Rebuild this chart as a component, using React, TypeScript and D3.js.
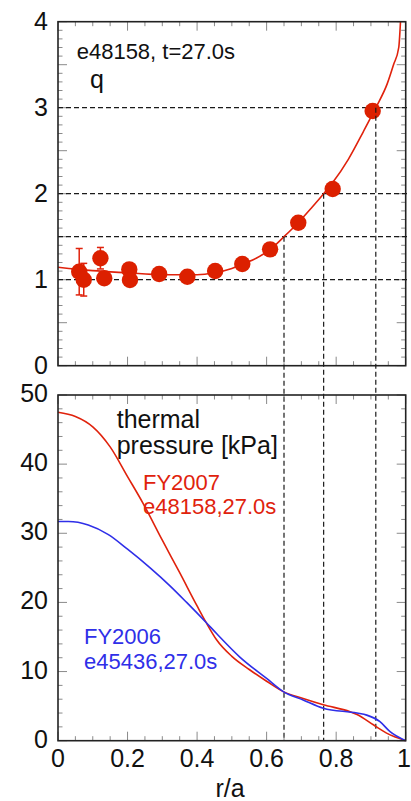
import React from "react";
import * as d3 from "d3";

// Safety-factor measurements (e48158, t = 27.0 s)
const qR = [0.061, 0.074, 0.122, 0.133, 0.205, 0.207, 0.291, 0.372, 0.452, 0.53, 0.61, 0.691, 0.79, 0.905];
const qVal = [1.093, 1.0, 1.25, 1.016, 1.12, 0.997, 1.066, 1.035, 1.101, 1.183, 1.353, 1.663, 2.055, 2.962];
const qErr = [0.27, 0.19, 0.125, 0, 0, 0, 0, 0, 0, 0, 0, 0, 0, 0];

// Fitted q profile
const qFitR = [0, 0.1, 0.2, 0.3, 0.4, 0.45, 0.5, 0.53, 0.57, 0.61, 0.65, 0.69, 0.73, 0.764, 0.79, 0.835, 0.878, 0.914, 0.947, 0.965, 0.98, 0.985];
const qFitV = [1.145, 1.105, 1.08, 1.058, 1.058, 1.08, 1.13, 1.18, 1.25, 1.35, 1.5, 1.66, 1.84, 2.0, 2.13, 2.4, 2.72, 3.0, 3.28, 3.5, 3.7, 4.0];

// Rational surfaces: q value and radius where the fit crosses it
const surfQ = [1.5, 2, 3];
const surfR = [0.65, 0.764, 0.914];
const refQ = [1, 1.5, 2, 3];

// Thermal pressure profiles [kPa]
const p07R = [0, 0.05, 0.1, 0.15, 0.2, 0.245, 0.3, 0.35, 0.4, 0.426, 0.456, 0.5, 0.55, 0.6, 0.648, 0.705, 0.763, 0.84, 0.86, 0.907, 0.945, 1.0];
const p07V = [47.5, 46.9, 45.4, 42.5, 38.2, 34.3, 29.0, 24.3, 19.5, 17.1, 14.6, 12.2, 10.3, 8.6, 7.1, 6.1, 5.2, 4.2, 3.8, 2.3, 1.1, 0];
const p06R = [0, 0.03, 0.087, 0.145, 0.2, 0.265, 0.322, 0.37, 0.426, 0.456, 0.523, 0.6, 0.648, 0.705, 0.763, 0.86, 0.888, 0.926, 0.955, 1.0];
const p06V = [31.7, 31.7, 31.2, 29.8, 27.7, 25.0, 22.4, 20.0, 17.1, 15.5, 12.1, 9.0, 7.1, 5.9, 4.7, 4.0, 3.7, 2.75, 1.3, 0];

const xTickLabels = ["0", "0.2", "0.4", "0.6", "0.8", "1"];
const qTickLabels = ["0", "1", "2", "3", "4"];
const pTickLabels = ["0", "10", "20", "30", "40", "50"];

const W = 411;
const H = 801;
const RED = "#e0220c";
const BLUE = "#2f2fe8";
const FONT = "'Liberation Sans', Arial, Helvetica, sans-serif";

export default function App() {
  const x = d3.scaleLinear().domain([0, 1]).range([58, 405.7]);
  const yq = d3.scaleLinear().domain([0, 4]).range([365.7, 21.7]);
  const yp = d3.scaleLinear().domain([0, 50]).range([740.7, 395]);

  const qLine = d3
    .line<number>()
    .x((_, i) => x(qFitR[i]))
    .y((d) => yq(d))
    .curve(d3.curveMonotoneX);
  const p07Line = d3
    .line<number>()
    .x((_, i) => x(p07R[i]))
    .y((d) => yp(d))
    .curve(d3.curveMonotoneX);
  const p06Line = d3
    .line<number>()
    .x((_, i) => x(p06R[i]))
    .y((d) => yp(d))
    .curve(d3.curveMonotoneX);

  const xMinor = x.ticks(20);
  const xMajor = x.ticks(5);

  const frameTicks = (
    y: d3.ScaleLinear<number, number>,
    minor: number[],
    major: number[],
    key: string
  ) => {
    const [x0, x1] = x.range();
    const [yb, yt] = y.range();
    const els: React.ReactElement[] = [];
    const isMajorX = (v: number) => xMajor.some((m) => Math.abs(m - v) < 1e-6);
    const isMajorY = (v: number) => major.some((m) => Math.abs(m - v) < 1e-6);
    xMinor.forEach((v, i) => {
      const len = isMajorX(v) ? 9 : 4.5;
      els.push(<line key={`${key}xb${i}`} x1={x(v)} x2={x(v)} y1={yb} y2={yb - len} />);
      els.push(<line key={`${key}xt${i}`} x1={x(v)} x2={x(v)} y1={yt} y2={yt + len} />);
    });
    minor.forEach((v, i) => {
      const len = isMajorY(v) ? 9 : 4.5;
      els.push(<line key={`${key}yl${i}`} x1={x0} x2={x0 + len} y1={y(v)} y2={y(v)} />);
      els.push(<line key={`${key}yr${i}`} x1={x1} x2={x1 - len} y1={y(v)} y2={y(v)} />);
    });
    return (
      <g stroke="#8a8a8a" strokeWidth={1}>
        {els}
      </g>
    );
  };

  const dash = { stroke: "#1a1a1a", strokeWidth: 1.2, strokeDasharray: "5,3", fill: "none" };

  return (
    <div style={{ position: "absolute", left: 0, top: 0 }}>
      <svg width={W} height={H} style={{ display: "block", background: "#fff" }} fontFamily={FONT}>
        {/* ---------- q panel ---------- */}
        {frameTicks(yq, yq.ticks(40), yq.ticks(8), "q")}

        {refQ.map((v, i) => (
          <line key={`hq${i}`} x1={x(0)} x2={410} y1={yq(v)} y2={yq(v)} {...dash} />
        ))}

        <path d={qLine(qFitV) ?? ""} fill="none" stroke={RED} strokeWidth={1.6} />

        <g stroke={RED} strokeWidth={1.5}>
          {qVal.map((v, i) =>
            qErr[i] > 0 ? (
              <g key={`eb${i}`}>
                <line x1={x(qR[i])} x2={x(qR[i])} y1={yq(v + qErr[i])} y2={yq(v - qErr[i])} />
                <line x1={x(qR[i]) - 3.5} x2={x(qR[i]) + 3.5} y1={yq(v + qErr[i])} y2={yq(v + qErr[i])} />
                <line x1={x(qR[i]) - 3.5} x2={x(qR[i]) + 3.5} y1={yq(v - qErr[i])} y2={yq(v - qErr[i])} />
              </g>
            ) : null
          )}
        </g>
        {qVal.map((v, i) => (
          <circle key={`pt${i}`} cx={x(qR[i])} cy={yq(v)} r={8.2} fill="#dc2000" />
        ))}

        <rect x={58} y={21.7} width={347.7} height={344} fill="none" stroke="#222" strokeWidth={1.6} />

        {/* rational-surface radii carried down into the pressure panel */}
        {surfR.map((r, i) => (
          <line key={`vs${i}`} x1={x(r)} x2={x(r)} y1={yq(surfQ[i])} y2={yp(0)} {...dash} />
        ))}

        <text x={76.7} y={59} fontSize={22} fill="#111">
          e48158, t=27.0s
        </text>
        <text x={90} y={88} fontSize={25} fill="#111">
          q
        </text>

        {qTickLabels.map((t, i) => (
          <text key={`ql${i}`} x={48} y={yq(+t) + 8} fontSize={25} textAnchor="end" fill="#111">
            {t}
          </text>
        ))}

        {/* ---------- pressure panel ---------- */}
        {frameTicks(yp, yp.ticks(25), yp.ticks(5), "p")}

        <path d={p07Line(p07V) ?? ""} fill="none" stroke={RED} strokeWidth={1.6} />
        <path d={p06Line(p06V) ?? ""} fill="none" stroke={BLUE} strokeWidth={1.6} />

        <rect x={58} y={395} width={347.7} height={345.7} fill="none" stroke="#222" strokeWidth={1.6} />

        <text x={116.7} y={428.3} fontSize={25} fill="#111">
          thermal
        </text>
        <text x={116.7} y={454.3} fontSize={25} fill="#111">
          pressure [kPa]
        </text>
        <text x={143} y={490} fontSize={22} fill={RED}>
          FY2007
        </text>
        <text x={143} y={513.5} fontSize={22} fill={RED}>
          e48158,27.0s
        </text>
        <text x={84} y={644} fontSize={22} fill={BLUE}>
          FY2006
        </text>
        <text x={84} y={668.5} fontSize={22} fill={BLUE}>
          e45436,27.0s
        </text>

        {pTickLabels.map((t, i) => (
          <text key={`pl${i}`} x={48} y={yp(+t) + 7} fontSize={25} textAnchor="end" fill="#111">
            {t}
          </text>
        ))}
        {xTickLabels.map((t, i) => {
          const last = i === xTickLabels.length - 1;
          return (
            <text
              key={`xl${i}`}
              x={last ? W : x(+t)}
              y={767}
              fontSize={25}
              textAnchor={last ? "end" : "middle"}
              fill="#111"
            >
              {t}
            </text>
          );
        })}
        <text x={230} y={796.5} fontSize={25} textAnchor="middle" fill="#111">
          r/a
        </text>
      </svg>
    </div>
  );
}
